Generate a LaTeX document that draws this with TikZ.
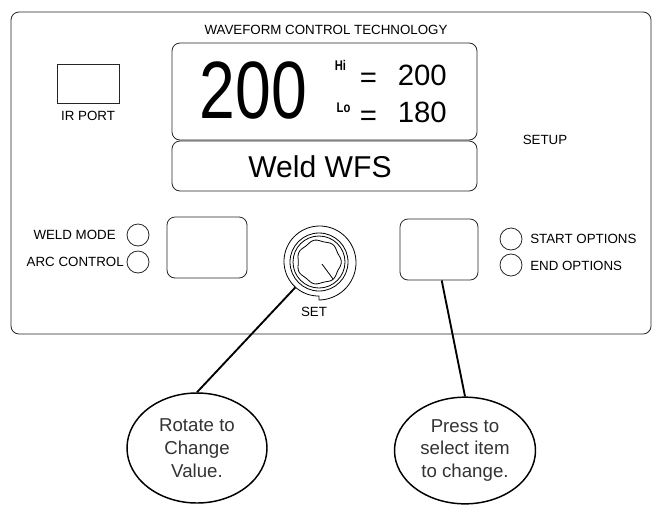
\documentclass[tikz,border=0pt]{standalone}
\usepackage{fontspec}
\setmainfont{Liberation Sans}
\usepackage{graphicx}
\usetikzlibrary{shapes.geometric}

\begin{document}
\begin{tikzpicture}[
        x=0.75pt, y=-0.75pt,
        panel/.style={draw=black!85, line width=0.6pt, rounded corners=6pt},
        btn/.style={draw=black!85, line width=0.6pt, rounded corners=6pt, minimum height=45.75pt},
        led/.style={circle, draw=black!85, line width=0.6pt, minimum size=16.5pt, inner sep=0pt},
        lbl/.style={font=\fontsize{10}{12}\selectfont, inner sep=0pt},
        lcd/.style={font=\fontsize{22}{22}\selectfont, inner sep=0pt},
        tag/.style={font=\bfseries\fontsize{10.5}{10.5}\selectfont, anchor=base, inner sep=0pt},
        callout/.style={ellipse, draw, line width=1.1pt, align=center, inner sep=0pt, font=\fontsize{14}{17}\selectfont, text=black!80},
        pointer/.style={line width=1.4pt}
    ]
        \useasboundingbox (0,0) rectangle (652,504);

        % Front panel
        \draw[panel] (11,12) rectangle (651,334);
        \node[lbl, anchor=base] (title) at (326,34) {WAVEFORM CONTROL TECHNOLOGY};
        \draw[draw=black!85, line width=0.6pt] (57,64) rectangle (119,103);
        \node[lbl, anchor=base] (irport) at (88,120) {IR PORT};
        \node[lbl, anchor=base] (setup) at (545,144) {SETUP};

        % Display
        \draw[panel] (172,43) rectangle (477,140);
        \draw[panel] (172,141) rectangle (477,191);
        \node[anchor=base, inner sep=0pt] (value) at (253.5,118) {\scalebox{0.79}[1]{\fontsize{61}{61}\selectfont 200}};
        \node[tag] (hi) at (340.5,70.5) {\scalebox{0.8}[1]{Hi}};
        \node[tag] (lo) at (343.5,112) {\scalebox{0.8}[1]{Lo}};
        \node[lcd, anchor=base] (eqhi) at (368.5,87) {=};
        \node[lcd, anchor=base] (eqlo) at (368.5,125) {=};
        \node[lcd, anchor=base east] (hival) at (447,85) {200};
        \node[lcd, anchor=base east] (loval) at (447,122) {180};
        \node[font=\fontsize{22.6}{23}\selectfont, anchor=base, inner sep=0pt] (mode) at (320,177) {Weld WFS};

        % Buttons and lamps
        \node[led] (weldled) at (138,235) {};
        \node[led] (arcled) at (138,262) {};
        \node[lbl, anchor=base east] at (116,239) {WELD MODE};
        \node[lbl, anchor=base east] at (124,266) {ARC CONTROL};
        \node[btn, minimum width=60pt] (modebtn) at (207,247.5) {};
        \node[btn, minimum width=58.5pt] (selbtn) at (439,249.5) {};
        \node[led] (startled) at (511,239) {};
        \node[led] (endled) at (511,265) {};
        \node[lbl, anchor=base west] at (530,243) {START OPTIONS};
        \node[lbl, anchor=base west] at (530,270) {END OPTIONS};

        % Knob
        \coordinate (knobc) at (319,262);
        \node[circle, minimum size=52pt, inner sep=0pt] (knob) at (knobc) {};
        \draw[line width=0.6pt] plot[smooth, domain=0:360, samples=73, variable=\t]
            ({319+(38-4*\t/360)*cos(90-\t)}, {262+(38-4*\t/360)*sin(90-\t)}) -- cycle;
        \draw[line width=0.6pt] (knobc) circle[radius=29];
        \draw[line width=0.6pt] (knobc) circle[radius=26];
        \draw[line width=0.6pt] plot[smooth cycle, domain=0:355, samples=72, variable=\t]
            ({319+(21.5+0.8*cos(7*\t))*cos(\t)}, {262+(21.5+0.8*cos(7*\t))*sin(\t)});
        \draw[line width=0.6pt] (322,264) -- (333,279);
        \node[lbl, anchor=base] (set) at (314,316) {SET};

        % Callouts
        \node[callout, minimum width=105pt, minimum height=82.5pt] (rotate) at (197,448) {Rotate to\\Change\\Value.};
        \node[callout, minimum width=105.75pt, minimum height=80pt] (press) at (465,450.5) {Press to\\select item\\to change.};
        \draw[pointer] (knob.227) -- (rotate.north);
        \draw[pointer] (selbtn.-85) -- (press.north);
    \end{tikzpicture}
\end{document}
